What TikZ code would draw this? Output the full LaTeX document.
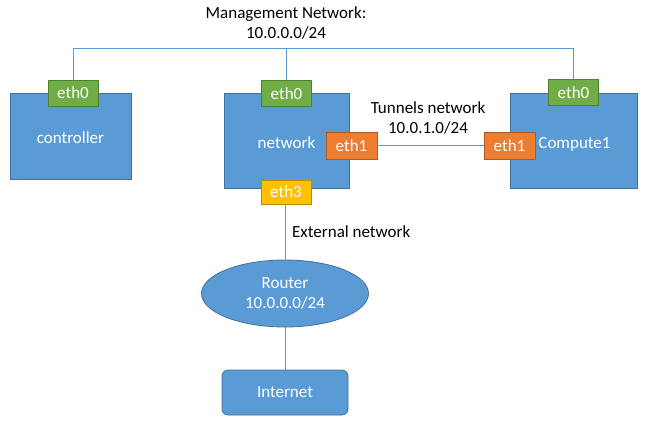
\documentclass[tikz,border=0pt]{standalone}
\usepackage{fontspec}
\setmainfont{Carlito}
\usetikzlibrary{shapes.geometric}
\definecolor{boxblue}{HTML}{5B9BD5}
\definecolor{boxblueline}{HTML}{41719C}
\definecolor{portgreen}{HTML}{70AD47}
\definecolor{portgreenline}{HTML}{507E32}
\definecolor{portorange}{HTML}{ED7D31}
\definecolor{portorangeline}{HTML}{AE5A21}
\definecolor{portyellow}{HTML}{FFC000}
\definecolor{portyellowline}{HTML}{BC8C00}
\begin{document}
\begin{tikzpicture}[x=1pt,y=-1pt,
  every node/.style={font=\fontsize{17}{20}\selectfont},
  hostbox/.style={draw=boxblueline,fill=boxblue,text=white,line width=0.8pt,inner sep=0pt},
  lowtext/.style={text height=15pt,text depth=0pt},
  portbox/.style={draw=#1line,fill=#1,text=white,line width=0.8pt,inner sep=0pt,minimum width=50pt,minimum height=26pt},
  link/.style={draw=boxblue,line width=0.8pt},
  lbl/.style={text=black,align=center,inner sep=0pt}]
\useasboundingbox (0,0) rectangle (645,421);
% hosts
\node[hostbox,lowtext,minimum width=121pt,minimum height=86pt] (ctl) at (70.5,136) {controller};
\node[hostbox,lowtext,minimum width=125pt,minimum height=95pt] (net) at (286.5,140.5) {network};
\node[hostbox,lowtext,minimum width=127pt,minimum height=95pt] (cmp) at (573.5,140.5) {\hspace*{2pt}Compute1};
% ports
\node[portbox=portgreen] (ctl0) at (73,93) {eth0};
\node[portbox=portgreen] (net0) at (286.5,93.5) {eth0};
\node[portbox=portgreen] (cmp0) at (573.5,92.5) {eth0};
\node[portbox=portorange,minimum width=51pt,minimum height=27pt] (net1) at (351.5,145.5) {eth1};
\node[portbox=portorange,minimum width=51pt,minimum height=27pt] (cmp1) at (509.5,145.5) {eth1};
\node[portbox=portyellow,minimum height=24pt] (net3) at (286,192) {eth3};
% router & internet
\node[hostbox,ellipse,minimum width=167pt,minimum height=67pt,align=center] (rtr) at (285,293.5) {Router\\10.0.0.0/24};
\node[hostbox,rounded corners=6pt,minimum width=126pt,minimum height=45pt] (inet) at (285,392.5) {Internet};
% management network
\coordinate (mg) at (0,48);
\draw[link] (ctl0.north) -- (ctl0.north |- mg) -- (cmp0.north |- mg) -- (cmp0.north);
\draw[link] (net0.north) -- (net0.north |- mg);
\node[lbl] (mglbl) at (286,23) {Management Network:\\10.0.0.0/24};
% tunnels
\draw[link] (net1.east) -- (cmp1.west);
\node[lbl] (tnlbl) at (428,117.5) {Tunnels network\\10.0.1.0/24};
% external
\draw[link] (rtr.north) -- (rtr.north |- net3.south);
\node[lbl,anchor=west] (exlbl) at (292,232) {External network};
\draw[link] (rtr.south) -- (inet.north);
\end{tikzpicture}
\end{document}
